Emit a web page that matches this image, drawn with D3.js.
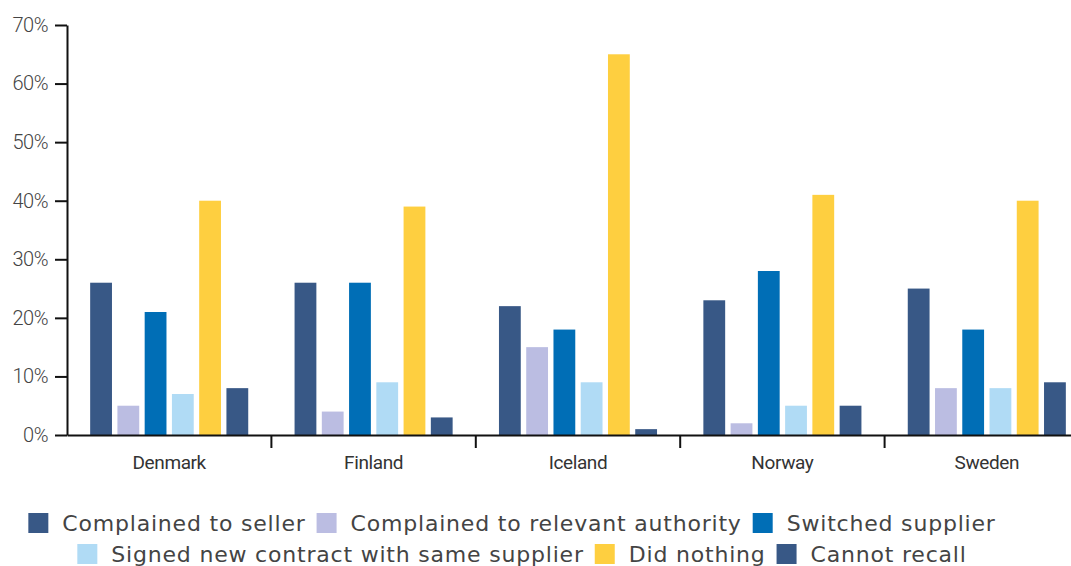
<!DOCTYPE html>
<html><head><meta charset="utf-8">
<script src="https://cdn.jsdelivr.net/npm/d3@7"></script>
<style>body{margin:0;background:#fff;overflow:hidden}svg{display:block}</style>
</head><body>
<svg id="c" width="1071" height="566"></svg>
<script>
const countries = ["Denmark","Finland","Iceland","Norway","Sweden"];
const seriesNames = ["Complained to seller","Complained to relevant authority","Switched supplier","Signed new contract with same supplier","Did nothing","Cannot recall"];
const seriesColors = ["#385886","#bbbde2","#006eb6","#b0dbf5","#fecf40","#385886"];
const complainedSeller = [26,26,22,23,25];
const complainedAuthority = [5,4,15,2,8];
const switchedSupplier = [21,26,18,28,18];
const signedNew = [7,9,9,5,8];
const didNothing = [40,39,65,41,40];
const cannotRecall = [8,3,1,5,9];
const yTicks = [0,10,20,30,40,50,60,70];

const values = [complainedSeller, complainedAuthority, switchedSupplier, signedNew, didNothing, cannotRecall];
const svg = d3.select("#c");
const x0 = d3.scaleBand().domain(countries).range([67, 1089]);
const x1 = d3.scaleBand().domain(d3.range(6)).range([0, x0.bandwidth()]).paddingInner(0.2).paddingOuter(0.85);
const y = d3.scaleLinear().domain([0,70]).range([435, 25]);

const tickFont = "Roboto, sans-serif";

// bars
const data = [];
countries.forEach((c, ci) => values.forEach((s, si) => data.push({c, si, v: s[ci]})));
svg.append("g").selectAll("rect").data(data).join("rect")
  .attr("x", d => x0(d.c) + x1(d.si))
  .attr("width", x1.bandwidth())
  .attr("y", d => y(d.v))
  .attr("height", d => y(0) - y(d.v))
  .attr("fill", d => seriesColors[d.si]);

// y axis
const ya = svg.append("g").attr("transform", "translate(67,0)")
  .call(d3.axisLeft(y).tickValues(yTicks).tickFormat(d => d + "%").tickSize(12).tickSizeOuter(0));
ya.select(".domain").attr("stroke", "#111").attr("stroke-width", 2);
ya.selectAll(".tick line").attr("stroke", "#111").attr("stroke-width", 2);
ya.selectAll(".tick text").attr("font-family", tickFont).attr("font-size", 20).attr("font-weight", 300).attr("fill", "#444").attr("x", -19).attr("letter-spacing", -0.5);

// x axis
const xa = svg.append("g").attr("transform", "translate(0,435)")
  .call(d3.axisBottom(x0).tickSize(0).tickSizeOuter(0));
xa.select(".domain").attr("stroke", "#111").attr("stroke-width", 2);
xa.selectAll(".tick text").attr("font-family", tickFont).attr("font-size", 19).attr("fill", "#333").attr("dy", 0).attr("y", 34).attr("letter-spacing", -0.4);
// separators between bands
svg.append("g").selectAll("line").data(countries.slice(1)).join("line")
  .attr("x1", d => x0(d)).attr("x2", d => x0(d))
  .attr("y1", 435).attr("y2", 448)
  .attr("stroke", "#111").attr("stroke-width", 2);

// legend
const legendRows = [[0,1,2],[3,4,5]];
const rowY = [523, 554];
const rowCenter = [512, 522];
const legFont = "'DejaVu Sans', sans-serif";
const sw = 20, gapT = 14, gapI = 11;
legendRows.forEach((row, ri) => {
  const g = svg.append("g");
  let xpos = 0;
  row.forEach((si, k) => {
    const item = g.append("g").attr("transform", `translate(${xpos},0)`);
    item.append("rect").attr("x", 0).attr("y", rowY[ri] - sw/2).attr("width", sw).attr("height", sw).attr("fill", seriesColors[si]);
    const t = item.append("text").attr("x", sw + gapT).attr("y", rowY[ri]).attr("dy", "0.36em")
      .attr("font-family", legFont).attr("font-size", 22).attr("letter-spacing", 0.8).attr("fill", "#444").text(seriesNames[si]);
    xpos += sw + gapT + t.node().getComputedTextLength() + (k < row.length - 1 ? gapI : 0);
  });
  g.attr("transform", `translate(${rowCenter[ri] - xpos/2},0)`);
});
</script>
</body></html>
